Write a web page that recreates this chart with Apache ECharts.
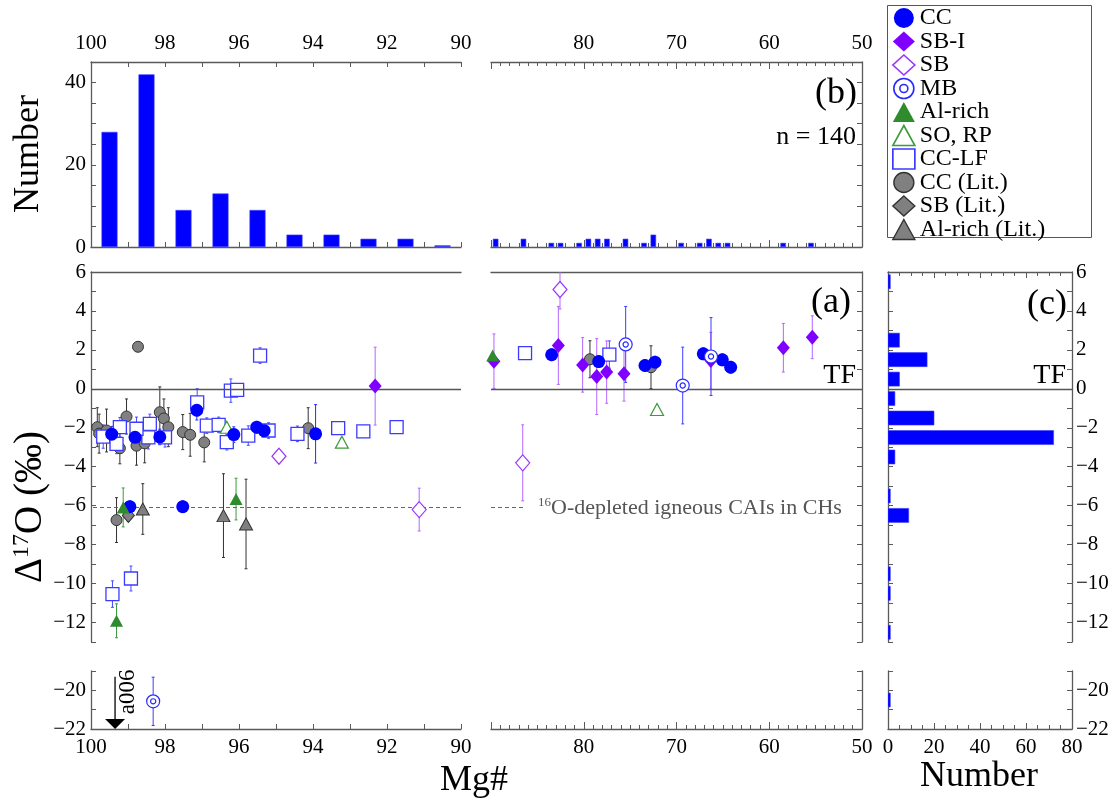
<!DOCTYPE html>
<html>
<head>
<meta charset="utf-8">
<script src="https://cdn.jsdelivr.net/npm/echarts@6/dist/echarts.min.js"></script>
<style>
  html, body { margin: 0; padding: 0; background: #fff; }
  #chart { width: 1117px; height: 802px; }
</style>
</head>
<body>
<div id="chart"></div>
<script>
// ---------------- data ----------------
// (b) Mg# histogram, Mg# 90–100 (bin centres, counts)
const mgBinsHigh = [99.5, 98.5, 97.5, 96.5, 95.5, 94.5, 93.5, 92.5, 91.5, 90.5];
const mgCountsHigh = [28, 42, 9, 13, 9, 3, 3, 2, 2, 0.4];
// (b) Mg# histogram, Mg# 50–90
const mgBinsLow = [89.5, 86.5, 83.5, 82.5, 80.5, 79.5, 78.5, 77.5, 75.5, 73.5, 72.5, 69.5, 67.5, 66.5, 65.5, 64.5, 58.5, 55.5];
const mgCountsLow = [2, 2, 1, 1, 1, 2, 2, 2, 2, 1, 3, 1, 1, 2, 1, 1, 1, 1];
// (c) Δ17O histogram (bin centres, counts)
const dBins = [5.5, 2.5, 1.5, 0.5, -0.5, -1.5, -2.5, -3.5, -5.5, -6.5, -9.5, -10.5, -12.5, -20.5];
const dCounts = [1, 5, 17, 5, 3, 20, 72, 3, 1, 9, 1, 1, 1, 1];

// (a) chondrules: [Mg#, Δ17O, ±error]
const CC = [
  [99.44, -2.33, 0.4], [98.81, -2.49, 0.5], [98.14, -2.47, 0.4], [97.14, -1.1, 0.5],
  [96.14, -2.35, 0.4], [95.52, -1.97, 0.3], [95.32, -2.15, 0.3], [93.93, -2.31, 1.5],
  [98.95, -6.05, 0.3], [97.52, -6.05, 0.3],
  [83.46, 1.75, 0.3], [78.39, 1.4, 0.3], [73.4, 1.2, 0.3], [72.32, 1.37, 0.3],
  [67.11, 1.8, 0.3], [65.06, 1.49, 0.3], [64.16, 1.11, 0.3]
];
const SB_I = [
  [92.32, 0.14, 2.0], [89.68, 1.42, 1.4], [82.74, 2.23, 2.0], [80.12, 1.23, 1.4],
  [78.6, 0.63, 1.95], [77.53, 0.86, 1.6], [75.66, 0.77, 1.4], [66.3, 1.45, 1.45],
  [58.48, 2.11, 1.25], [55.36, 2.65, 1.1]
];
const SB = [
  [94.92, -3.46, 0], [91.13, -6.2, 1.1], [82.56, 5.1, 1.0], [86.58, -3.8, 1.95]
];
const MB = [
  [98.32, -20.57, 1.25], [75.48, 2.28, 1.95], [69.33, 0.17, 1.97], [66.28, 1.66, 2.0]
];
const AL_RICH = [
  [99.13, -6.09, 1.0], [96.08, -5.66, 1.07], [99.31, -11.91, 0.87], [89.82, 1.71, 0]
];
const SO_RP = [
  [96.33, -1.97, 0], [93.22, -2.74, 0.2], [72.1, -1.06, 0]
];
const CC_LF = [
  [97.13, -0.69, 0.7], [96.22, -0.09, 0.6], [96.05, -0.05, 0], [95.43, 1.71, 0.4],
  [96.87, -1.89, 0.4], [96.55, -1.85, 0.4], [96.33, -2.74, 0.4], [95.75, -2.4, 0.5],
  [95.2, -2.14, 0.4], [94.42, -2.31, 0.4], [93.32, -2.02, 0], [92.64, -2.18, 0.3],
  [91.74, -1.97, 0], [98.41, -1.8, 0.5], [98.45, -2.49, 0.6], [98.0, -2.49, 0.5],
  [99.67, -2.45, 0.6], [99.31, -2.83, 0.5], [99.22, -1.97, 0.5], [98.77, -2.05, 0.6],
  [99.42, -10.54, 0.68], [98.92, -9.74, 0.64], [86.33, 1.83, 0], [77.24, 1.76, 0.7]
];
const CC_LIT = [
  [98.73, 2.16, 0], [99.83, -1.97, 1.0], [99.78, -2.3, 1.0], [99.58, -2.14, 1.1],
  [99.22, -3.05, 0.8], [99.04, -1.42, 0.9], [98.77, -2.92, 1.0], [98.55, -2.8, 1.0],
  [98.14, -1.2, 1.3], [98.03, -1.52, 1.0], [97.91, -1.97, 1.0], [97.52, -2.22, 0.9],
  [97.32, -2.36, 1.1], [96.94, -2.75, 1.0], [94.13, -2.02, 1.05], [99.31, -6.74, 1.15],
  [79.33, 1.52, 0.95], [72.75, 1.11, 1.1]
];
const SB_LIT = [[98.99, -6.5, 0.3]];
const AL_LIT = [[98.6, -6.17, 1.3], [96.42, -6.51, 2.15], [95.81, -6.94, 2.3]];

// off-scale point: [Mg#, upper Δ17O of arrow]
const A006 = [[99.35, -19.3]];

// reference levels
const TF_LEVEL = 0;
const CH_IGNEOUS = -6.1;

// ---------------- styling ----------------
const FONT = '"Liberation Serif", "Times New Roman", serif';
const AX = '#5a5a5a';
const LAB = { color: '#000', fontFamily: FONT, fontSize: 21 };
const minus = v => (v < 0 ? '\u2212' + Math.abs(v) : String(v));

const MB_PATH = 'path://M10,0A10,10,0,1,1,-10,0A10,10,0,1,1,10,0ZM4,0A4,4,0,1,1,-4,0A4,4,0,1,1,4,0Z';

// grid geometry (px)
const XL = 91, WL = 370, XR = 491, WR = 371, XC = 888, WC = 184;
const TB = 62, HB = 185, TA = 272, HA = 370, TA2 = 671, HA2 = 58;

const grids = [
  { left: XL, top: TB, width: WL, height: HB },   // 0 (b) left
  { left: XR, top: TB, width: WR, height: HB },   // 1 (b) right
  { left: XL, top: TA, width: WL, height: HA },   // 2 (a) left
  { left: XR, top: TA, width: WR, height: HA },   // 3 (a) right
  { left: XL, top: TA2, width: WL, height: HA2 }, // 4 (a) left, low
  { left: XR, top: TA2, width: WR, height: HA2 }, // 5 (a) right, low
  { left: XC, top: TA, width: WC, height: HA },   // 6 (c)
  { left: XC, top: TA2, width: WC, height: HA2 }  // 7 (c) low
];

const line = { show: true, onZero: false, lineStyle: { color: AX, width: 1.3 } };
const tick = (len) => ({ show: true, inside: true, length: len, lineStyle: { color: AX, width: 1 } });

function mgHigh(gridIndex, position, showLabels, showTicks = true) {
  return {
    type: 'value', gridIndex, position, min: 90, max: 100, interval: 1, inverse: true,
    axisLine: line, axisTick: showTicks ? tick(5) : { show: false },
    axisLabel: { show: showLabels, ...LAB, margin: 8, formatter: v => (v % 2 === 0 ? String(v) : '') },
    splitLine: { show: false }
  };
}
function mgLow(gridIndex, position, showLabels, showTicks = true) {
  return {
    type: 'value', gridIndex, position, min: 50, max: 90, interval: 10, inverse: true,
    axisLine: line, axisTick: showTicks ? tick(7) : { show: false },
    minorTick: { show: showTicks, splitNumber: 10, length: 4, lineStyle: { color: AX } },
    axisLabel: { show: showLabels, ...LAB, margin: 8, formatter: v => (v === 90 ? '' : String(v)) },
    splitLine: { show: false }, minorSplitLine: { show: false }
  };
}
function numAxis(gridIndex, position, showLabels) {
  return {
    type: 'value', gridIndex, position, min: 0, max: 80, interval: 20,
    axisLine: line, axisTick: tick(6),
    minorTick: { show: true, splitNumber: 4, length: 4, lineStyle: { color: AX } },
    axisLabel: { show: showLabels, ...LAB, margin: 8 },
    splitLine: { show: false }, minorSplitLine: { show: false }
  };
}
function dAxis(gridIndex, position, min, max, showLabels) {
  return {
    type: 'value', gridIndex, position, min, max, interval: 1,
    axisLine: line, axisTick: tick(5),
    axisLabel: { show: showLabels, ...LAB, margin: 5, formatter: v => (v % 2 === 0 ? minus(v) : '') },
    splitLine: { show: false }
  };
}
function countAxis(gridIndex, position, showLabels) {
  return {
    type: 'value', gridIndex, position, min: 0, max: 45, interval: 5,
    axisLine: line, axisTick: tick(5),
    axisLabel: { show: showLabels, ...LAB, margin: 5, formatter: v => (v % 20 === 0 ? String(v) : '') },
    splitLine: { show: false }
  };
}

const xAxes = [
  mgHigh(0, 'top', true),            // 0
  mgHigh(0, 'bottom', false),        // 1
  mgLow(1, 'top', true),             // 2
  mgLow(1, 'bottom', false),         // 3
  mgHigh(2, 'top', false, false),    // 4 frame line of (a) left
  mgLow(3, 'top', false, false),     // 5 frame line of (a) right
  mgHigh(4, 'bottom', true),         // 6
  mgLow(5, 'bottom', true),          // 7
  numAxis(6, 'top', false),          // 8
  numAxis(7, 'bottom', true)         // 9
];
const yAxes = [
  countAxis(0, 'left', true),        // 0
  countAxis(1, 'right', false),      // 1
  dAxis(2, 'left', -13, 6, true),    // 2
  dAxis(3, 'right', -13, 6, false),  // 3
  dAxis(4, 'left', -22, -19, true),  // 4
  dAxis(5, 'right', -22, -19, false),// 5
  dAxis(6, 'left', -13, 6, false),   // 6
  dAxis(6, 'right', -13, 6, true),   // 7
  dAxis(7, 'left', -22, -19, false), // 8
  dAxis(7, 'right', -22, -19, true)  // 9
];
yAxes[7].axisLabel.margin = 4;
yAxes[9].axisLabel.margin = 4;

// ---------------- series ----------------
const series = [];
const zip = (a, b) => a.map((v, i) => [v, b[i]]);

// (b) histograms
series.push({
  type: 'bar', name: 'hist-high', xAxisIndex: 0, yAxisIndex: 0, silent: true,
  data: zip(mgBinsHigh, mgCountsHigh), barWidth: 16,
  itemStyle: { color: '#0000ff', borderColor: '#3d3dff', borderWidth: 0.6 }
});
series.push({
  type: 'bar', name: 'hist-low', xAxisIndex: 2, yAxisIndex: 1, silent: true,
  data: zip(mgBinsLow, mgCountsLow), barWidth: 5.5,
  itemStyle: { color: '#0000ff', borderColor: '#3d3dff', borderWidth: 0.6 }
});

// (c) horizontal histogram, drawn through the axes' coordinates
const HALF_BIN = 0.36;
function hbarItem(params, api) {
  const y = api.value(0), n = api.value(1);
  const a = api.coord([0, y + HALF_BIN]);
  const b = api.coord([n, y - HALF_BIN]);
  return {
    type: 'rect',
    shape: { x: a[0], y: a[1], width: Math.max(b[0] - a[0], 0.8), height: b[1] - a[1] },
    style: { fill: '#0000ff', stroke: '#3d3dff', lineWidth: 0.6 }
  };
}
const dHist = zip(dBins, dCounts);
series.push({
  type: 'custom', name: 'hist-d', xAxisIndex: 8, yAxisIndex: 6, silent: true, clip: true,
  encode: { x: 1, y: 0 }, renderItem: hbarItem, data: dHist.filter(d => d[0] > -15)
});
series.push({
  type: 'custom', name: 'hist-d-low', xAxisIndex: 9, yAxisIndex: 8, silent: true, clip: true,
  encode: { x: 1, y: 0 }, renderItem: hbarItem, data: dHist.filter(d => d[0] <= -15)
});

// scatter classes
const CLASSES = [
  { name: 'CC (Lit.)', data: CC_LIT, symbol: 'circle', size: 11, fill: '#808080', stroke: '#333', bw: 1, err: '#333', z: 3 },
  { name: 'SB (Lit.)', data: SB_LIT, symbol: 'diamond', size: [12, 14], fill: '#808080', stroke: '#333', bw: 1, err: '#333', z: 3 },
  { name: 'Al-rich (Lit.)', data: AL_LIT, symbol: 'triangle', size: [13, 12], fill: '#808080', stroke: '#333', bw: 1, err: '#333', z: 3 },
  { name: 'CC-LF', data: CC_LF, symbol: 'rect', size: 13, fill: '#ffffff', stroke: '#3b3bff', bw: 1.3, err: '#4a4aff', z: 4 },
  { name: 'SO, RP', data: SO_RP, symbol: 'triangle', size: [13, 12], fill: '#ffffff', stroke: '#3c9a3c', bw: 1.2, err: '#3c9a3c', z: 5 },
  { name: 'SB', data: SB, symbol: 'diamond', size: [14, 16], fill: '#ffffff', stroke: '#9933ff', bw: 1.2, err: '#b366ff', z: 5 },
  { name: 'CC', data: CC, symbol: 'circle', size: 13, fill: '#0000ff', stroke: '#0000ff', bw: 0, err: '#2a2aff', z: 6 },
  { name: 'SB-I', data: SB_I, symbol: 'diamond', size: [13, 15], fill: '#8000ff', stroke: '#8000ff', bw: 0, err: '#b366ff', z: 6 },
  { name: 'MB', data: MB, symbol: MB_PATH, size: 13, fill: '#ffffff', stroke: '#2a2aff', bw: 1.2, err: '#3d3dff', z: 6 },
  { name: 'Al-rich', data: AL_RICH, symbol: 'triangle', size: [13, 12], fill: '#2e8b2e', stroke: '#2e8b2e', bw: 0, err: '#3c9a3c', z: 7 }
];
const PANELS = [
  { key: 'L', x: 4, y: 2, test: p => p[0] >= 90 && p[1] > -15 },
  { key: 'R', x: 5, y: 3, test: p => p[0] < 90 && p[1] > -15 },
  { key: 'L2', x: 6, y: 4, test: p => p[0] >= 90 && p[1] <= -15 },
  { key: 'R2', x: 7, y: 5, test: p => p[0] < 90 && p[1] <= -15 }
];

function errBar(color) {
  return function (params, api) {
    const x = api.value(0), y = api.value(1), e = api.value(2);
    if (!e) return null;
    const t = api.coord([x, y + e]);
    const b = api.coord([x, y - e]);
    const st = { stroke: color, lineWidth: 1 };
    return {
      type: 'group', children: [
        { type: 'line', shape: { x1: t[0], y1: t[1], x2: b[0], y2: b[1] }, style: st },
        { type: 'line', shape: { x1: t[0] - 1.5, y1: t[1], x2: t[0] + 1.5, y2: t[1] }, style: st },
        { type: 'line', shape: { x1: b[0] - 1.5, y1: b[1], x2: b[0] + 1.5, y2: b[1] }, style: st }
      ]
    };
  };
}

CLASSES.forEach(c => {
  PANELS.forEach(pn => {
    const pts = c.data.filter(pn.test);
    if (!pts.length) return;
    if (pts.some(p => p[2] > 0)) {
      series.push({
        type: 'custom', name: c.name + ' err', xAxisIndex: pn.x, yAxisIndex: pn.y,
        silent: true, clip: true, z: 2, encode: { x: 0, y: 1 },
        renderItem: errBar(c.err), data: pts
      });
    }
    series.push({
      type: 'scatter', name: c.name, xAxisIndex: pn.x, yAxisIndex: pn.y,
      symbol: c.symbol, symbolSize: c.size, z: c.z, silent: true,
      encode: { x: 0, y: 1 }, data: pts,
      itemStyle: { color: c.fill, borderColor: c.stroke, borderWidth: c.bw, opacity: 1 }
    });
  });
});

// off-scale point a006: arrow down to the axis floor
series.push({
  type: 'custom', name: 'a006', xAxisIndex: 6, yAxisIndex: 4, silent: true, clip: false, z: 8,
  data: A006, encode: { x: 0, y: 1 },
  renderItem: function (params, api) {
    const x = api.value(0), y = api.value(1);
    const t = api.coord([x, y]);
    const f = api.coord([x, -22]);
    return {
      type: 'group', children: [
        { type: 'line', shape: { x1: t[0], y1: t[1], x2: f[0], y2: f[1] - 9 }, style: { stroke: '#000', lineWidth: 1.3 } },
        { type: 'polygon', shape: { points: [[f[0] - 10, f[1] - 10], [f[0] + 10, f[1] - 10], [f[0], f[1]]] }, style: { fill: '#000' } },
        { type: 'text', x: t[0] + 13, y: t[1] + 15, rotation: Math.PI / 2,
          style: { text: 'a006', fill: '#000', font: '23px ' + FONT, align: 'center', verticalAlign: 'middle' } }
      ]
    };
  }
});

// reference lines
function guide(x, y, lines) {
  return {
    type: 'scatter', name: 'guide', xAxisIndex: x, yAxisIndex: y, data: [], silent: true,
    markLine: { silent: true, symbol: ['none', 'none'], label: { show: false }, animation: false, data: lines }
  };
}
const tfStyle = { color: '#555', width: 1.3, type: 'solid' };
const chStyle = { color: '#666', width: 1, type: [4, 3] };
series.push(guide(4, 2, [
  { yAxis: TF_LEVEL, lineStyle: tfStyle },
  { yAxis: CH_IGNEOUS, lineStyle: chStyle }
]));
series.push(guide(5, 3, [
  { yAxis: TF_LEVEL, lineStyle: tfStyle },
  [{ coord: [90, CH_IGNEOUS], lineStyle: chStyle }, { coord: [86.3, CH_IGNEOUS] }]
]));
series.push(guide(8, 6, [{ yAxis: TF_LEVEL, lineStyle: tfStyle }]));

// ---------------- legend ----------------
const LEGEND_ORDER = ['CC', 'SB-I', 'SB', 'MB', 'Al-rich', 'SO, RP', 'CC-LF', 'CC (Lit.)', 'SB (Lit.)', 'Al-rich (Lit.)'];
const legendData = LEGEND_ORDER.map(n => {
  const c = CLASSES.find(k => k.name === n);
  return {
    name: n, icon: c.symbol,
    itemStyle: { color: c.fill, borderColor: c.stroke, borderWidth: c.bw ? c.bw + 0.4 : 0 }
  };
});

// ---------------- text ----------------
const sup = { fontSize: 15, verticalAlign: 'top', lineHeight: 14, fontFamily: FONT };
const graphic = [
  { type: 'rect', shape: { x: 887.5, y: 5.5, width: 204, height: 232 }, style: { fill: 'none', stroke: '#555', lineWidth: 1 }, z: 1 },
  { type: 'text', x: 857, y: 94, style: { text: '(b)', font: '36px ' + FONT, fill: '#000', align: 'right', verticalAlign: 'middle' } },
  { type: 'text', x: 856, y: 137, style: { text: 'n = 140', font: '26px ' + FONT, fill: '#000', align: 'right', verticalAlign: 'middle' } },
  { type: 'text', x: 851, y: 303, style: { text: '(a)', font: '36px ' + FONT, fill: '#000', align: 'right', verticalAlign: 'middle' } },
  { type: 'text', x: 856, y: 376, style: { text: 'TF', font: '28px ' + FONT, fill: '#000', align: 'right', verticalAlign: 'middle' } },
  { type: 'text', x: 1067, y: 305, style: { text: '(c)', font: '36px ' + FONT, fill: '#000', align: 'right', verticalAlign: 'middle' } },
  { type: 'text', x: 1066, y: 376, style: { text: 'TF', font: '28px ' + FONT, fill: '#000', align: 'right', verticalAlign: 'middle' } },
  { type: 'text', x: 538, y: 508, style: {
      text: '{s|16}{m|O-depleted igneous CAIs in CHs}', align: 'left', verticalAlign: 'middle',
      rich: { s: { ...sup, fontSize: 13, fill: '#555' }, m: { fontSize: 22, fontFamily: FONT, fill: '#555', lineHeight: 24 } } } },
  { type: 'text', x: 29, y: 154, rotation: Math.PI / 2, style: { text: 'Number', font: '36px ' + FONT, fill: '#000', align: 'center', verticalAlign: 'middle' } },
  { type: 'text', x: 31, y: 507, rotation: Math.PI / 2, style: {
      text: '{m|\u0394}{s|17}{m|O (\u2030)}', align: 'center', verticalAlign: 'middle',
      rich: { s: { ...sup, fontSize: 24, lineHeight: 24, fill: '#000' }, m: { fontSize: 39, fontFamily: FONT, fill: '#000', lineHeight: 42 } } } },
  { type: 'text', x: 474, y: 781, style: { text: 'Mg#', font: '36px ' + FONT, fill: '#000', align: 'center', verticalAlign: 'middle' } },
  { type: 'text', x: 979, y: 777, style: { text: 'Number', font: '36px ' + FONT, fill: '#000', align: 'center', verticalAlign: 'middle' } }
];

const chart = echarts.init(document.getElementById('chart'), null, { renderer: 'canvas' });
chart.setOption({
  animation: false,
  backgroundColor: '#ffffff',
  grid: grids,
  xAxis: xAxes,
  yAxis: yAxes,
  legend: {
    left: 892, top: 6, orient: 'vertical', selectedMode: false,
    itemWidth: 22, itemHeight: 20, itemGap: -0.5, padding: 0,
    textStyle: { fontFamily: FONT, fontSize: 24, color: '#000', lineHeight: 20 },
    data: legendData
  },
  graphic,
  series
});
</script>
</body>
</html>
